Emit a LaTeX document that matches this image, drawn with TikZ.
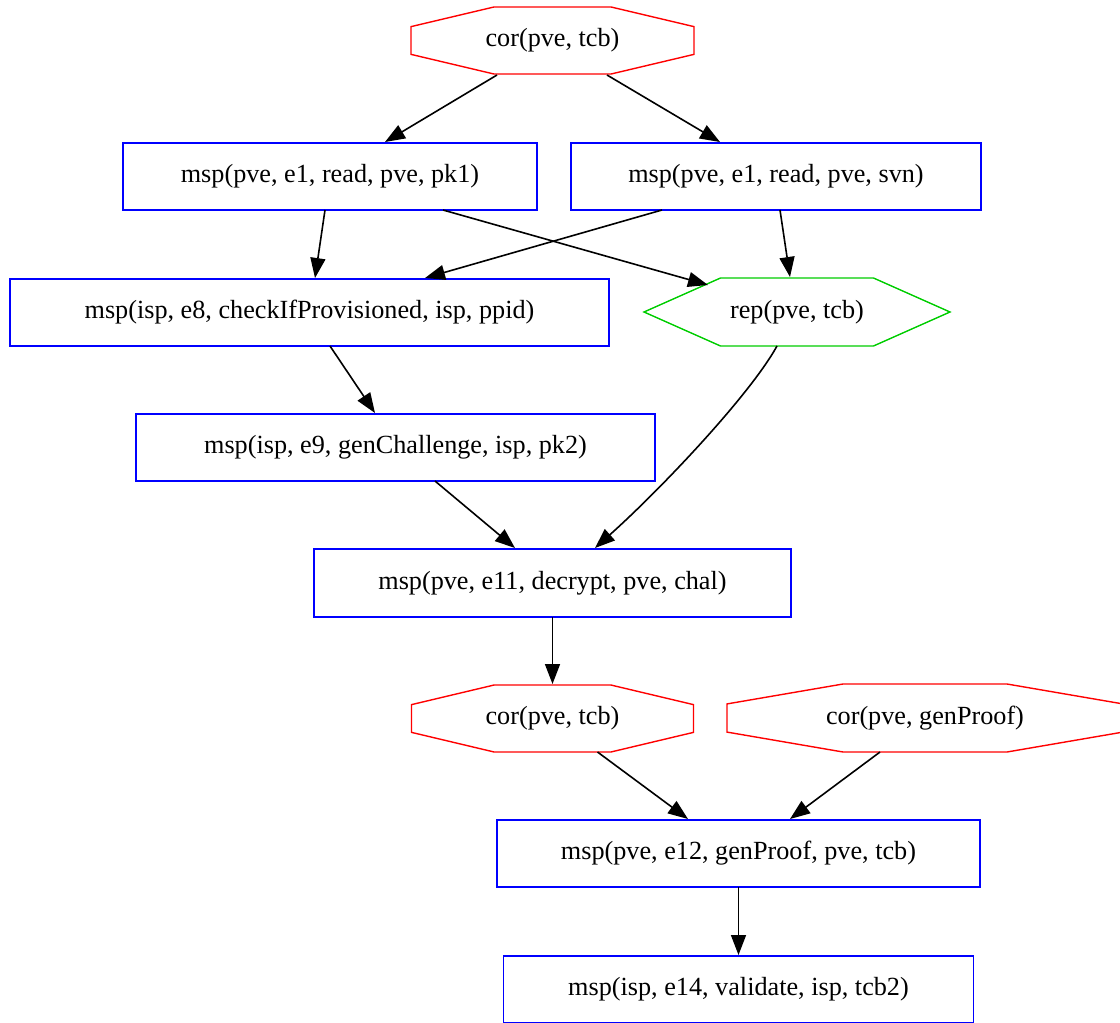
\documentclass[tikz,border=0pt]{standalone}
\usepackage{fontspec}
\setmainfont{Liberation Serif}
\usetikzlibrary{calc,arrows.meta}

\definecolor{gvblue}{RGB}{0,0,255}
\definecolor{gvred}{RGB}{255,0,0}
\definecolor{gvgreen}{RGB}{0,205,0}

\newcommand\lbl{\fontsize{26.2}{30}\selectfont}

% outline of an octagon inside the rectangle of node #1
\newcommand\octoutline[1]{%
  \draw[gvred, line width=1.4pt, line join=miter]
    ($(#1.north)!.414!(#1.north west)$) -- ($(#1.north)!.414!(#1.north east)$)
    -- ($(#1.east)!.414!(#1.north east)$) -- ($(#1.east)!.414!(#1.south east)$)
    -- ($(#1.south)!.414!(#1.south east)$) -- ($(#1.south)!.414!(#1.south west)$)
    -- ($(#1.west)!.414!(#1.south west)$) -- ($(#1.west)!.414!(#1.north west)$)
    -- cycle;}

% outline of a hexagon inside the rectangle of node #1
\newcommand\hexoutline[1]{%
  \draw[gvgreen, line width=1.4pt, line join=miter]
    ($(#1.north)!.5!(#1.north west)$) -- ($(#1.north)!.5!(#1.north east)$)
    -- (#1.east) -- ($(#1.south)!.5!(#1.south east)$)
    -- ($(#1.south)!.5!(#1.south west)$) -- (#1.west) -- cycle;}

\tikzset{
  boxn/.style={rectangle, draw=gvblue, line width=1.4pt, outer sep=0pt,
               inner sep=0pt, minimum height=67pt, font=\lbl},
  shapen/.style={rectangle, outer sep=0pt, inner sep=0pt, font=\lbl},
  edge/.style={draw=black, line width=1.6pt,
               -{Triangle[length=20pt,width=15pt]}},
}

\begin{document}
\begin{tikzpicture}[x=1pt,y=-1pt]
\useasboundingbox (0,0) rectangle (1120,1023);
\clip (0,0) rectangle (1120,1023);

% nodes
\node[shapen, minimum width=283pt, minimum height=67pt] (cor1) at (552.5,40.5) {cor(pve, tcb)};
\node[boxn, minimum width=414pt] (mspa) at (330,176.5) {msp(pve, e1, read, pve, pk1)};
\node[boxn, minimum width=410pt] (mspb) at (776,176.5) {msp(pve, e1, read, pve, svn)};
\node[boxn, minimum width=599pt] (mspc) at (309.5,312.5) {msp(isp, e8, checkIfProvisioned, isp, ppid)};
\node[shapen, minimum width=306pt, minimum height=68pt] (rep) at (797,312) {rep(pve, tcb)};
\node[boxn, minimum width=519pt] (mspd) at (395.5,447.5) {msp(isp, e9, genChallenge, isp, pk2)};
\node[boxn, minimum width=477pt, minimum height=68pt] (mspe) at (552.5,583) {msp(pve, e11, decrypt, pve, chal)};
\node[shapen, minimum width=282pt, minimum height=67pt] (cor2) at (552.5,718.5) {cor(pve, tcb)};
\node[shapen, minimum width=396pt, minimum height=68pt] (cor3) at (925,718) {cor(pve, genProof)};
\node[boxn, minimum width=483pt] (mspf) at (738.5,853.5) {msp(pve, e12, genProof, pve, tcb)};
\node[boxn, minimum width=470pt] (mspg) at (738.5,989.5) {msp(isp, e14, validate, isp, tcb2)};

\octoutline{cor1}
\octoutline{cor2}
\octoutline{cor3}
\hexoutline{rep}

% connectors
\draw[edge] ([shift={(-55.5,1)}]cor1.south) -- ([shift={(55,-1)}]mspa.north);
\draw[edge] ([shift={(54.5,1)}]cor1.south) -- ([shift={(-56,-1)}]mspb.north);
\draw[edge] ([shift={(-5,0)}]mspa.south) -- ([shift={(5.5,-1)}]mspc.north);
\draw[edge] ([shift={(113,0)}]mspa.south) -- ([shift={(-89,7)}]rep.north);
\draw[edge] ([shift={(-114,0)}]mspb.south) -- ([shift={(115.5,-1)}]mspc.north);
\draw[edge] ([shift={(4,0)}]mspb.south) -- ([shift={(-7,-1)}]rep.north);
\draw[edge] ([shift={(20.5,0)}]mspc.south) -- ([shift={(-20.5,-1)}]mspd.north);
\draw[edge] ([shift={(-20,0)}]rep.south) .. controls (750,395) and (660,490) .. ([shift={(42.5,-1)}]mspe.north);
\draw[edge] ([shift={(39.5,0)}]mspd.south) -- ([shift={(-37.5,-1)}]mspe.north);
\draw[edge] (mspe.south) -- ([shift={(0,-1)}]cor2.north);
\draw[edge] ([shift={(45,0)}]cor2.south) -- ([shift={(-50.5,-1)}]mspf.north);
\draw[edge] ([shift={(-45,0)}]cor3.south) -- ([shift={(51.5,-1)}]mspf.north);
\draw[edge] (mspf.south) -- ([shift={(0,-1)}]mspg.north);
\end{tikzpicture}
\end{document}
